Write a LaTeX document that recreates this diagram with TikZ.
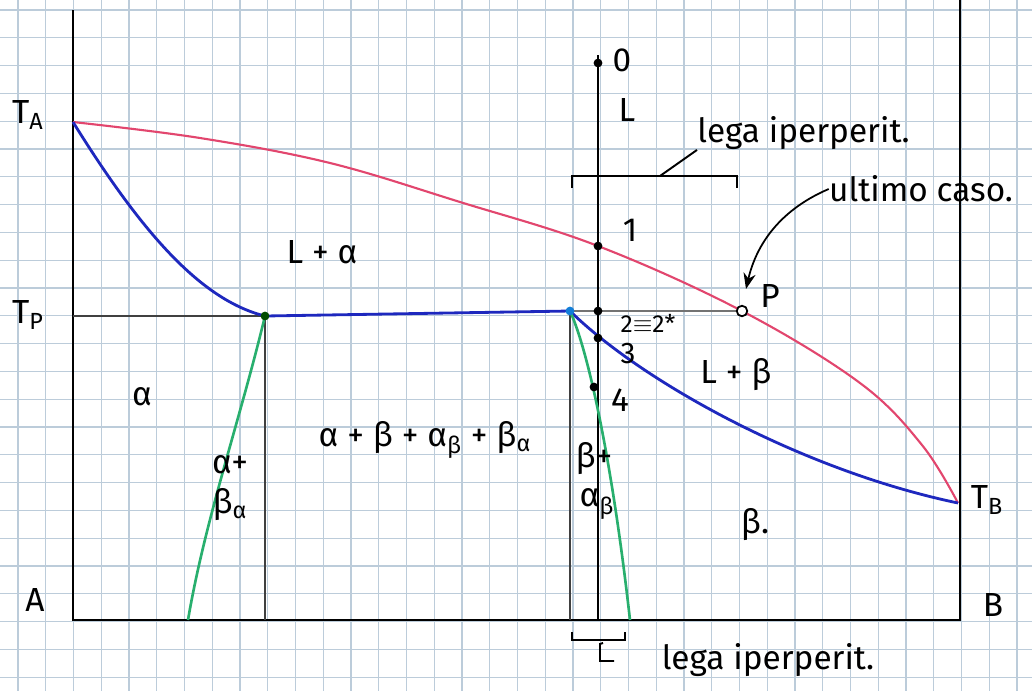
\documentclass[tikz,border=0pt]{standalone}
\usepackage{fontspec}
\setmainfont{Fira Sans}
\usetikzlibrary{arrows.meta}
\definecolor{gridc}{RGB}{188,204,218}
\definecolor{liq}{RGB}{226,70,110}
\definecolor{sol}{RGB}{30,40,190}
\definecolor{solv}{RGB}{40,175,110}
\begin{document}
\begin{tikzpicture}[x=0.02cm,y=-0.02cm,
  gridline/.style={gridc,line width=0.7pt},
  axisline/.style={black,line width=1.6pt},
  thinline/.style={black!75,line width=0.7pt},
  liquidus/.style={liq,line width=1.2pt},
  solidus/.style={sol,line width=1.6pt},
  solvus/.style={solv,line width=1.5pt},
  lab/.style={font=\fontsize{19}{22}\selectfont,inner sep=0pt},
  pt/.style={circle,fill=black,inner sep=0pt,minimum size=5pt}]
\useasboundingbox (0,0) rectangle (1032,691);
\fill[white] (0,0) rectangle (1032,691);
% grid
\foreach \i in {0,...,37} \draw[gridline] ({18+27.75*\i},0) -- ({18+27.75*\i},691);
\foreach \j in {0,...,24} \draw[gridline] (0,{10+27.8*\j}) -- (1032,{10+27.8*\j});
% key coordinates
\coordinate (TA) at (73,122);
\coordinate (TB) at (958,503);
\coordinate (E1) at (265,316);
\coordinate (E2) at (570,311);
\coordinate (Pp) at (742,311);
\coordinate (TPl) at (73,316);
\coordinate (O) at (73,620);
\coordinate (Atop) at (73,10);
\coordinate (Btop) at (960,0);
\coordinate (Bbot) at (960,620);
\coordinate (E1b) at (265,620);
\coordinate (E2b) at (570,620);
\coordinate (G1b) at (188,620);
\coordinate (G2b) at (630,620);
\coordinate (Ctop) at (598,55);
\coordinate (Cbot) at (598,620);
% axes
\draw[axisline] (Atop) -- (O) -- (Bbot) -- (Btop);
% thin lines
\draw[thinline] (TPl) -- (E1);
\draw[black!55,line width=0.6pt] (E2) -- (Pp);
\draw[thinline] (E1) -- (E1b);
\draw[thinline] (E2) -- (E2b);
\draw[black,line width=1.1pt] (Ctop) -- (Cbot);
% liquidus
\draw[liquidus] plot[smooth,tension=0.6] coordinates {(73,122) (200,138) (330,163) (460,202) (598,246) (742,311) (860,383) (922,445) (958,503)};
% solidus
\draw[solidus] (TA) .. controls (140,230) and (200,300) .. (E1);
\draw[solidus] (E1) -- (E2);
\draw[solidus] (E2) .. controls (640,380) and (800,470) .. (TB);
% solvus
\draw[solvus] (E1) .. controls (240,420) and (205,520) .. (G1b);
\draw[solvus] (E2) .. controls (588,350) and (612,460) .. (G2b);
% points
\node[pt] (p0) at (598,63) {};
\node[pt] (p1) at (598,246) {};
\node[pt] (p2) at (598,311) {};
\node[pt] (p3) at (598,338) {};
\node[pt] (p4) at (594,387) {};
\node[circle,draw=black,fill=white,inner sep=0pt,minimum size=6pt,line width=1pt] (pP) at (Pp) {};
\node[circle,fill=sol!60!cyan,inner sep=0pt,minimum size=5pt] (e2dot) at (E2) {};
\node[circle,fill=black!70!green,inner sep=0pt,minimum size=5pt] (e1dot) at (E1) {};
% top bracket
\coordinate (bl) at (572,176);
\coordinate (br) at (737,176);
\coordinate (bm) at (660,176);
\draw[black,line width=1.1pt] (572,188) -- (bl) -- (br) -- (737,188);
\node[lab,anchor=west] (lega1) at (697,133) {lega iperperit.};
\draw[black,line width=1.1pt] (bm) -- (lega1.south west);
% bottom bracket
\draw[black,line width=1.1pt] (572,632) -- (572,640) -- (625,640) -- (625,632);
\draw[black,line width=1.1pt] (603,643) -- (600,644) -- (600,661) -- (614,661);
\node[lab] (lega2) at (768,660) {lega iperperit.};
% ultimo caso
\node[lab] (ult) at (921,189) {ultimo caso.};
\draw[black,line width=1pt,-{Stealth[length=9pt,width=7pt]}] (ult.west) .. controls (775,212) and (755,250) .. (746,289);
% labels
\node[lab] (lTA) at (28,115) {T\textsubscript{A}};
\node[lab] (lTP) at (28,315) {T\textsubscript{P}};
\node[lab] (lA) at (35,600) {A};
\node[lab] (lTB) at (987,500) {T\textsubscript{B}};
\node[lab] (lB) at (993,605) {B};
\node[lab] (l0) at (622,60) {0};
\node[lab] (lL) at (627,110) {L};
\node[lab] (l1) at (630,230) {1};
\node[lab,font=\fontsize{14}{16}\selectfont] (l2) at (648,323) {2$\equiv$2*};
\node[lab,font=\fontsize{17}{19}\selectfont] (l3) at (628,354) {3};
\node[lab] (l4) at (620,400) {4};
\node[lab] (lLb) at (736,375) {L + β};
\node[lab] (lP) at (770,296) {P};
\node[lab] (lLa) at (322,252) {L + α};
\node[lab] (la) at (142,397) {α};
\node[lab] (lab1) at (230,465) {α+};
\node[lab] (lab2) at (230,505) {β\textsubscript{α}};
\node[lab] (lmid) at (425,440) {α + β + α\textsubscript{β} + β\textsubscript{α}};
\node[lab] (lba1) at (594,459) {β+};
\node[lab] (lba2) at (597,504) {α\textsubscript{β}};
\node[lab] (lbeta) at (755,525) {β.};
\end{tikzpicture}
\end{document}
